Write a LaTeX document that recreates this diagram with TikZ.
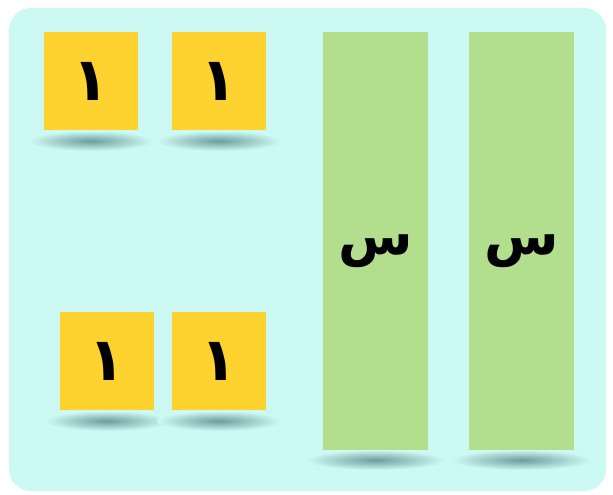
\documentclass[tikz,border=0pt]{standalone}
\usepackage{fontspec}
\newfontfamily\arabicfont[Script=Arabic]{DejaVu Sans}
\TeXXeTstate=1
\definecolor{bgc}{HTML}{CCF9F3}
\definecolor{yel}{HTML}{FED22F}
\definecolor{grn}{HTML}{B2DE8D}
\definecolor{shd}{HTML}{6E9C9C}
\tikzset{
  tile/.style={fill=yel, draw=none, minimum width=94pt, minimum height=98pt, inner sep=0pt},
  bar/.style={fill=grn, draw=none, minimum width=105pt, minimum height=418pt, inner sep=0pt},
  lbl/.style={font=\arabicfont\bfseries\fontsize{60}{70}\selectfont, text=black},
  slbl/.style={font=\arabicfont\bfseries\fontsize{54}{62}\selectfont, text=black},
}
\newcommand{\shadowunder}[3]{% x center, y, half width
  \shade[inner color=shd, outer color=bgc] (#1,#2) ellipse [x radius=#3, y radius=10];
}
\begin{document}
\begin{tikzpicture}[x=1pt,y=-1pt]
\useasboundingbox (0,0) rectangle (613,495);
\fill[white] (0,0) rectangle (613,495);
\fill[bgc, rounded corners=22pt] (9,8) rectangle (606,491);
% shadows
\shadowunder{91}{141}{62}
\shadowunder{219}{141}{62}
\shadowunder{107}{421}{62}
\shadowunder{219}{421}{62}
\shadowunder{375.5}{460}{70}
\shadowunder{521.5}{460}{70}
% tiles
\node[tile] (a) at (91,81) {};
\node[tile] (b) at (219,81) {};
\node[tile] (c) at (107,361) {};
\node[tile] (d) at (219,361) {};
\node[bar] (s1) at (375.5,241) {};
\node[bar] (s2) at (521.5,241) {};
\node[lbl] at (a) {\beginR ١\endR};
\node[lbl] at (b) {\beginR ١\endR};
\node[lbl] at (c) {\beginR ١\endR};
\node[lbl] at (d) {\beginR ١\endR};
\node[slbl] at ([yshift=-10pt]s1) {\beginR س\endR};
\node[slbl] at ([yshift=-10pt]s2) {\beginR س\endR};
\end{tikzpicture}
\end{document}
